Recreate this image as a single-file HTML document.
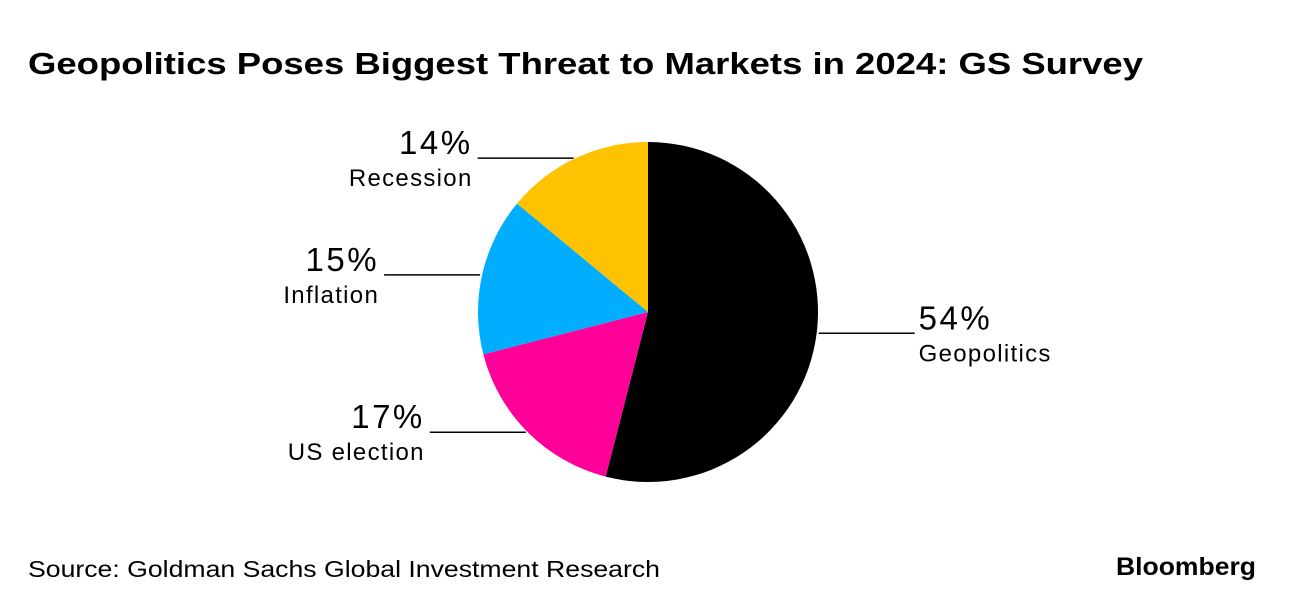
<!DOCTYPE html>
<html><head><meta charset="utf-8"><style>
body{margin:0;background:#fff;width:1296px;height:610px;overflow:hidden;font-family:"Liberation Sans",sans-serif}
</style></head><body>
<svg width="1296" height="610">
<text x="28" y="74" font-size="31" font-weight="bold" fill="#000" textLength="1115" lengthAdjust="spacingAndGlyphs">Geopolitics Poses Biggest Threat to Markets in 2024: GS Survey</text>
<g id="pie"></g>
<g id="labels"></g>
<text x="28" y="577" font-size="23" fill="#000" textLength="632" lengthAdjust="spacingAndGlyphs">Source: Goldman Sachs Global Investment Research</text>
<text x="1116" y="575" font-size="25" font-weight="bold" fill="#000" textLength="140" lengthAdjust="spacingAndGlyphs">Bloomberg</text>
</svg>
<script>
const categories=["Geopolitics","US election","Inflation","Recession"];
const values=[54,17,15,14];
const colors=["#000000","#ff0099","#00adff","#ffc200"];
const cx=648,cy=312,r=170,ns="http://www.w3.org/2000/svg";
const pie=document.getElementById('pie'),lab=document.getElementById('labels');
const total=values.reduce((a,b)=>a+b,0);
let acc=0;
function pt(a,rr){return [cx+rr*Math.sin(a),cy-rr*Math.cos(a)];}
values.forEach((v,i)=>{
  const a0=acc/total*2*Math.PI;acc+=v;const a1=acc/total*2*Math.PI;
  const [x0,y0]=pt(a0,r),[x1,y1]=pt(a1,r);
  const p=document.createElementNS(ns,'path');
  p.setAttribute('d',`M${cx},${cy}L${x0},${y0}A${r},${r} 0 ${a1-a0>Math.PI?1:0} 1 ${x1},${y1}Z`);
  p.setAttribute('fill',colors[i]);
  
  
  pie.appendChild(p);
  const am=(a0+a1)/2;const [mx,my]=pt(am,r);
  const right=Math.sin(am)>0;
  const ex=right?mx+98:mx-98;
  const ln=document.createElementNS(ns,'line');
  ln.setAttribute('x1',right?mx+2:mx-2);ln.setAttribute('y1',my);ln.setAttribute('x2',ex);ln.setAttribute('y2',my);
  ln.setAttribute('stroke','#000');ln.setAttribute('stroke-width','1.5');
  
  
  lab.appendChild(ln);
  const tx=right?ex+4:ex-5,anchor=right?'start':'end';
  const t1=document.createElementNS(ns,'text');
  t1.setAttribute('x',tx);t1.setAttribute('y',my-4);t1.setAttribute('font-size','33');t1.setAttribute('text-anchor',anchor);
  t1.setAttribute('letter-spacing','2.5');
  t1.textContent=v+'%';
  
  
  lab.appendChild(t1);
  const t2=document.createElementNS(ns,'text');
  t2.setAttribute('x',tx);t2.setAttribute('y',my+28);t2.setAttribute('font-size','24');t2.setAttribute('text-anchor',anchor);
  t2.setAttribute('letter-spacing','1.3');
  t2.textContent=categories[i];
  
  
  lab.appendChild(t2);
});
</script>
</body></html>
